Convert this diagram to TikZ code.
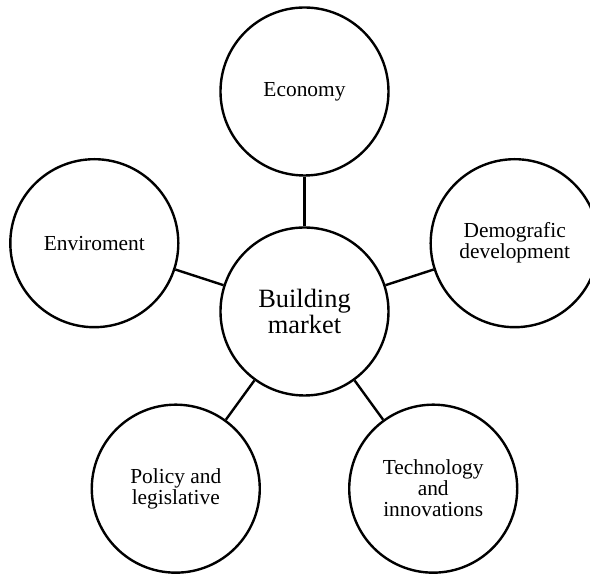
\documentclass[tikz,border=0pt]{standalone}
\usepackage{fontspec}
\setmainfont{Liberation Serif}
\begin{document}
\begin{tikzpicture}[x=0.5pt,y=0.5pt,
    topic/.style={circle, draw, line width=1.2pt, minimum size=84pt, inner sep=0pt, align=center, font=\fontsize{10.7}{10.5}\selectfont},
    hub/.style={topic, font=\fontsize{13.2}{13.3}\selectfont},
    link/.style={line width=1.2pt}]
    \useasboundingbox (-304.5,-264.5) rectangle (285.5,311.5);
    \node[hub] (market) at (0,0) {Building\\market};
    \node[topic] (economy) at (90:220) {Economy};
    \node[topic] (enviroment) at (162:221) {Enviroment};
    \node[topic] (demografic) at (18:221) {Demografic\\development};
    \node[topic] (policy) at (234:219) {Policy and\\legislative};
    \node[topic] (technology) at (306:219) {Technology\\and\\innovations};
    \draw[link] (market) -- (economy);
    \draw[link] (market) -- (enviroment);
    \draw[link] (market) -- (demografic);
    \draw[link] (market) -- (policy);
    \draw[link] (market) -- (technology);
\end{tikzpicture}
\end{document}
